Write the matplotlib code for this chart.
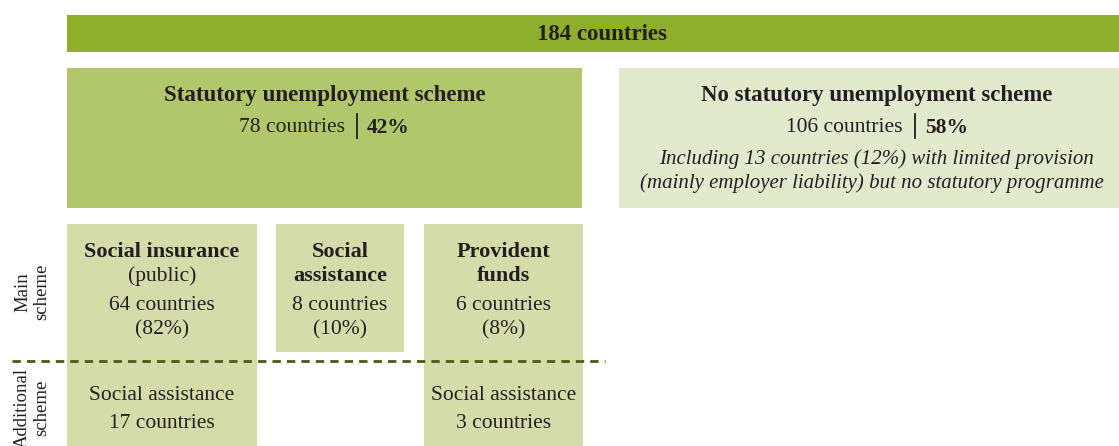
import matplotlib
matplotlib.use("Agg")
import matplotlib.pyplot as plt
from matplotlib.patches import Rectangle

plt.rcParams['font.family'] = ['Liberation Serif', 'DejaVu Serif']

# numbers shown in the diagram
total_countries = 184
statutory = [78, 42]          # countries, percent
no_statutory = [106, 58]
limited_note = [13, 12]

main_names = [["Social insurance"], ["Social", "assistance"], ["Provident", "funds"]]
main_sub = ["(public)", None, None]
main_counts = [64, 8, 6]
main_pct = [82, 10, 8]
additional_counts = [17, None, 3]

# colours
c_top = '#8fae2c'
c_stat = '#b2c76c'
c_nostat = '#e3e9cd'
c_sub = '#d4dca9'
c_dash = '#4b5a12'
c_text = '#231f20'

fig = plt.figure(figsize=(11.19, 4.46), dpi=100)
ax = fig.add_axes([0, 0, 1, 1])
ax.set_xlim(0, 1119)
ax.set_ylim(446, 0)
ax.axis('off')

FS = 15.5    # regular text
FB = 16.5    # bold headings
DY = 2       # small nudge so va='center' sits like the reference


def box(x0, y0, x1, y1, color):
    ax.add_patch(Rectangle((x0, y0), x1 - x0, y1 - y0, facecolor=color, edgecolor='none'))


def txt(x, y, s, size=FS, weight='normal', style='normal', ha='center'):
    ax.text(x, y + DY, s, ha=ha, va='center', fontsize=size, fontweight=weight,
            fontstyle=style, color=c_text)


def count_line(x_end, x_bar, x_pct, y, counts):
    txt(x_end, y, f"{counts[0]} countries", ha='right')
    ax.plot([x_bar, x_bar], [y - 12, y + 12], color=c_text, lw=1.3)
    txt(x_pct, y, f"{counts[1]}%", weight='bold', ha='left')


# top bar
box(67, 15, 1119, 52, c_top)
txt(602, 33, f"{total_countries} countries", size=FB, weight='bold')

# statutory / no statutory
box(67, 68, 582, 208, c_stat)
txt(325, 93, "Statutory unemployment scheme", size=FB, weight='bold')
count_line(345, 357, 367, 126, statutory)

box(619, 68, 1119, 208, c_nostat)
txt(877, 93, "No statutory unemployment scheme", size=FB, weight='bold')
count_line(902, 915, 925, 126, no_statutory)
txt(877, 157, f"Including {limited_note[0]} countries ({limited_note[1]}%) with limited provision",
    size=FS - 0.5, style='italic')
txt(872, 181, "(mainly employer liability) but no statutory programme", size=FS - 0.5, style='italic')

# main scheme boxes
cols = [(67, 257), (276, 404), (424, 583)]
for i, (x0, x1) in enumerate(cols):
    xc = (x0 + x1) / 2
    y_bottom = 446 if additional_counts[i] is not None else 352
    box(x0, 224, x1, y_bottom, c_sub)
    names = main_names[i]
    txt(xc, 250, names[0], size=FB - 0.5, weight='bold')
    if len(names) > 1:
        txt(xc, 274, names[1], size=FB - 0.5, weight='bold')
    if main_sub[i] is not None:
        txt(xc, 274, main_sub[i])
    txt(xc, 304, f"{main_counts[i]} countries")
    txt(xc, 328, f"({main_pct[i]}%)")
    if additional_counts[i] is not None:
        txt(xc, 393, "Social assistance")
        txt(xc, 422, f"{additional_counts[i]} countries")

# separator between main and additional
ax.plot([12, 605], [361, 361], color=c_dash, lw=2, ls=(0, (3, 2.2)))

# row labels
ax.text(32, 292, "Main\nscheme", rotation=90, ha='center', va='center', fontsize=13.5,
        color=c_text, linespacing=1.15)
ax.text(32, 408, "Additional\nscheme", rotation=90, ha='center', va='center', fontsize=13.5,
        color=c_text, linespacing=1.15)

fig.savefig('out.png', dpi=100)
